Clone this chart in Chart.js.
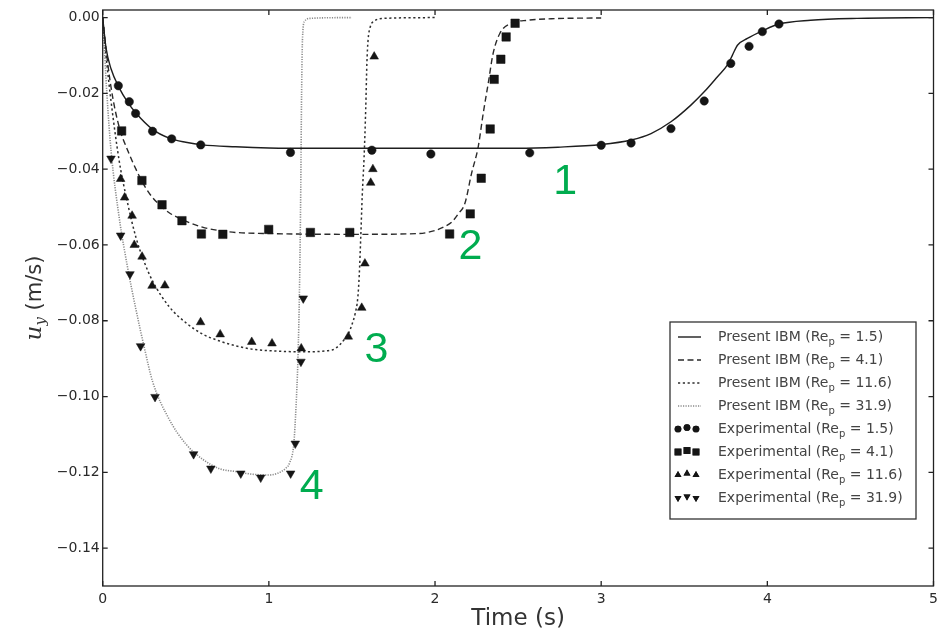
<!DOCTYPE html>
<html>
<head>
<meta charset="utf-8">
<script src="https://cdn.jsdelivr.net/npm/chart.js@4/dist/chart.umd.min.js"></script>
<style>
  html, body { margin: 0; padding: 0; background: #fff; }
</style>
</head>
<body>
<canvas id="velChart" width="940" height="633"></canvas>
<script>
// axis ticks
const xTicks = [0, 1, 2, 3, 4, 5];
const yTicks = [0, -0.02, -0.04, -0.06, -0.08, -0.10, -0.12, -0.14];

// Present IBM, Re_p = 1.5
const t1 = [0, 0.02, 0.05, 0.1, 0.15, 0.2, 0.3, 0.4, 0.5, 0.6, 0.8, 1.0, 1.3, 2.0, 2.5, 2.74, 3.0, 3.18, 3.3, 3.42, 3.54, 3.62, 3.7, 3.76, 3.79, 3.82, 3.88, 3.97, 4.07, 4.26, 4.54, 5.0];
const u1 = [0, -0.008, -0.0135, -0.0186, -0.0223, -0.0252, -0.0295, -0.0318, -0.0329, -0.0336, -0.0341, -0.0344, -0.0345, -0.0345, -0.0345, -0.0342, -0.0335, -0.0323, -0.0306, -0.0275, -0.0231, -0.0196, -0.0156, -0.0125, -0.0099, -0.0073, -0.0055, -0.0035, -0.0017, -0.0007, -0.0002, 0];
// Present IBM, Re_p = 4.1
const t2 = [0, 0.03, 0.06, 0.1, 0.15, 0.2, 0.25, 0.3, 0.35, 0.4, 0.5, 0.6, 0.7, 0.8, 1.0, 1.5, 1.9, 2.0, 2.06, 2.1, 2.14, 2.18, 2.22, 2.26, 2.29, 2.32, 2.35, 2.39, 2.46, 2.56, 2.7, 3.0];
const u2 = [0, -0.012, -0.021, -0.029, -0.035, -0.040, -0.0443, -0.0475, -0.0497, -0.0515, -0.0537, -0.0553, -0.0562, -0.0567, -0.057, -0.0572, -0.057, -0.0562, -0.0551, -0.054, -0.0518, -0.049, -0.0411, -0.0341, -0.0253, -0.0174, -0.0094, -0.0042, -0.0015, -0.0007, -0.0003, -0.0001];
// Present IBM, Re_p = 11.6
const t3 = [0, 0.02, 0.05, 0.1, 0.15, 0.2, 0.25, 0.3, 0.4, 0.5, 0.6, 0.7, 0.8, 0.9, 1.0, 1.2, 1.38, 1.43, 1.46, 1.48, 1.5, 1.52, 1.535, 1.544, 1.553, 1.562, 1.573, 1.583, 1.59, 1.597, 1.61, 1.63, 1.7, 2.0];
const u3 = [0, -0.01, -0.022, -0.038, -0.049, -0.058, -0.0645, -0.0695, -0.0763, -0.0805, -0.0835, -0.0853, -0.0866, -0.0875, -0.0879, -0.0882, -0.0877, -0.0862, -0.0846, -0.0833, -0.081, -0.078, -0.074, -0.068, -0.058, -0.047, -0.037, -0.024, -0.012, -0.006, -0.0025, -0.001, -0.0002, 0];
// Present IBM, Re_p = 31.9
const t4 = [0, 0.025, 0.05, 0.1, 0.15, 0.2, 0.25, 0.3, 0.4, 0.5, 0.6, 0.7, 0.8, 0.9, 1.0, 1.05, 1.1, 1.125, 1.15, 1.163, 1.175, 1.185, 1.192, 1.197, 1.203, 1.215, 1.25, 1.5];
const u4 = [0, -0.02, -0.035, -0.053, -0.066, -0.077, -0.087, -0.096, -0.106, -0.1125, -0.1165, -0.119, -0.1198, -0.1205, -0.1207, -0.1203, -0.119, -0.1175, -0.1125, -0.103, -0.09, -0.07, -0.045, -0.02, -0.005, -0.001, -0.0002, 0];

// experiments
const e1t = [0.094, 0.16, 0.198, 0.30, 0.415, 0.59, 1.13, 1.62, 1.975, 2.57, 3.0, 3.18, 3.42, 3.62, 3.78, 3.89, 3.97, 4.07];
const e1u = [-0.018, -0.0222, -0.0253, -0.030, -0.032, -0.0336, -0.0356, -0.035, -0.036, -0.0357, -0.0337, -0.0331, -0.0293, -0.022, -0.0121, -0.0076, -0.0037, -0.0017];
const e2t = [0.114, 0.236, 0.357, 0.477, 0.594, 0.723, 0.999, 1.25, 1.487, 2.088, 2.212, 2.278, 2.332, 2.356, 2.396, 2.428, 2.482];
const e2u = [-0.0299, -0.043, -0.0494, -0.0536, -0.0571, -0.0572, -0.0559, -0.0567, -0.0567, -0.0571, -0.0518, -0.0424, -0.0294, -0.0163, -0.011, -0.0051, -0.0015];
const e3t = [0.108, 0.132, 0.177, 0.19, 0.237, 0.297, 0.374, 0.589, 0.707, 0.897, 1.019, 1.195, 1.478, 1.559, 1.578, 1.613, 1.626, 1.634];
const e3u = [-0.0426, -0.0475, -0.0523, -0.060, -0.0631, -0.0708, -0.0707, -0.0804, -0.0836, -0.0856, -0.086, -0.0873, -0.0842, -0.0766, -0.0649, -0.0436, -0.040, -0.0103];
const e4t = [0.05, 0.108, 0.164, 0.228, 0.315, 0.547, 0.651, 0.831, 0.951, 1.131, 1.159, 1.193, 1.207];
const e4u = [-0.0372, -0.0575, -0.0677, -0.0867, -0.1001, -0.1152, -0.119, -0.1203, -0.1214, -0.1203, -0.1124, -0.0908, -0.0741];

const reynolds = ['1.5', '4.1', '11.6', '31.9'];

// green case numbers next to each curve
const caseNums = ['1', '2', '3', '4'];
const caseT = [2.784, 2.214, 1.648, 1.258];
const caseU = [-0.0430, -0.0600, -0.0871, -0.1234];

const pts = (ts, us) => ts.map((t, i) => ({ x: t, y: us[i] }));

const lineStyles = [
  { color: '#1e1e1e', dash: [], width: 1.4 },
  { color: '#2a2a2a', dash: [6, 3.5], width: 1.4 },
  { color: '#2e2e2e', dash: [2.2, 2.6], width: 1.5 },
  { color: '#8a8a8a', dash: [1.2, 1.3], width: 1.6 }
];
const markers = [
  { style: 'circle', radius: 4.2, rot: 0 },
  { style: 'rect', radius: 6.0, rot: 0 },
  { style: 'triangle', radius: 5.0, rot: 0 },
  { style: 'triangle', radius: 5.0, rot: 180 }
];

const lineData = [pts(t1, u1), pts(t2, u2), pts(t3, u3), pts(t4, u4)];
const expData = [pts(e1t, e1u), pts(e2t, e2u), pts(e3t, e3u), pts(e4t, e4u)];

const datasets = [];
expData.forEach((d, i) => {
  datasets.push({
    label: 'Experimental (Re_p = ' + reynolds[i] + ')',
    data: d,
    showLine: false,
    pointStyle: markers[i].style,
    pointRadius: markers[i].radius,
    pointRotation: markers[i].rot,
    backgroundColor: '#151515',
    borderColor: '#151515',
    borderWidth: 0.5,
    order: 0
  });
});
lineData.forEach((d, i) => {
  datasets.push({
    label: 'Present IBM (Re_p = ' + reynolds[i] + ')',
    data: d,
    showLine: true,
    pointRadius: 0,
    borderColor: lineStyles[i].color,
    borderDash: lineStyles[i].dash,
    borderWidth: lineStyles[i].width,
    cubicInterpolationMode: 'monotone',
    fill: false,
    order: 1
  });
});

// box around the plot + inward ticks on all four sides
const frameTicks = {
  id: 'frameTicks',
  afterDatasetsDraw(chart) {
    const { ctx, chartArea: a, scales: { x, y } } = chart;
    ctx.save();
    ctx.strokeStyle = '#222';
    ctx.lineWidth = 1.3;
    ctx.strokeRect(a.left, a.top, a.right - a.left, a.bottom - a.top);
    ctx.beginPath();
    xTicks.forEach(v => {
      const px = x.getPixelForValue(v);
      ctx.moveTo(px, a.bottom); ctx.lineTo(px, a.bottom - 5);
      ctx.moveTo(px, a.top); ctx.lineTo(px, a.top + 5);
    });
    yTicks.forEach(v => {
      const py = y.getPixelForValue(v);
      ctx.moveTo(a.left, py); ctx.lineTo(a.left + 5, py);
      ctx.moveTo(a.right, py); ctx.lineTo(a.right - 5, py);
    });
    ctx.stroke();
    ctx.restore();
  }
};

const caseLabels = {
  id: 'caseLabels',
  afterDatasetsDraw(chart) {
    const { ctx, scales: { x, y } } = chart;
    ctx.save();
    ctx.fillStyle = '#00ac4f';
    ctx.font = '43px "Liberation Sans", Arial, sans-serif';
    ctx.textAlign = 'center';
    ctx.textBaseline = 'middle';
    caseNums.forEach((n, i) => {
      ctx.fillText(n, x.getPixelForValue(caseT[i]), y.getPixelForValue(caseU[i]) + 2);
    });
    ctx.restore();
  }
};

// rotated y title: italic u with subscript y, then (m/s)
const yTitle = {
  id: 'yTitle',
  afterDraw(chart) {
    const ctx = chart.ctx;
    const mainFont = 'italic 23px "DejaVu Serif", serif';
    const subFont = 'italic 15px "DejaVu Serif", serif';
    const unitFont = '21px "DejaVu Sans", sans-serif';
    ctx.save();
    ctx.font = mainFont; const wU = ctx.measureText('u').width;
    ctx.font = subFont; const wY = ctx.measureText('y').width;
    ctx.font = unitFont; const wM = ctx.measureText(' (m/s)').width;
    const total = wU + wY + wM;
    ctx.translate(34, 298);
    ctx.rotate(-Math.PI / 2);
    ctx.fillStyle = '#333';
    ctx.textBaseline = 'alphabetic';
    let cx = -total / 2;
    ctx.font = mainFont; ctx.fillText('u', cx, 7); cx += wU;
    ctx.font = subFont; ctx.fillText('y', cx, 11); cx += wY;
    ctx.font = unitFont; ctx.fillText(' (m/s)', cx, 7);
    ctx.restore();
  }
};

// legend box inside the plot, matplotlib style
const legendBox = {
  id: 'legendBox',
  afterDraw(chart) {
    const ctx = chart.ctx;
    const left = 670, top = 322, right = 916, bottom = 519;
    const rowH = 23, firstRow = 337;
    ctx.save();
    ctx.fillStyle = '#fff';
    ctx.fillRect(left, top, right - left, bottom - top);
    ctx.strokeStyle = '#333';
    ctx.lineWidth = 1.3;
    ctx.strokeRect(left, top, right - left, bottom - top);

    const mainFont = '14px "DejaVu Sans", sans-serif';
    const subFont = '10px "DejaVu Sans", sans-serif';
    const drawLabel = (prefix, re, yy) => {
      let cx = 718;
      ctx.fillStyle = '#444';
      ctx.textBaseline = 'middle';
      ctx.font = mainFont;
      ctx.fillText(prefix + ' (Re', cx, yy);
      cx += ctx.measureText(prefix + ' (Re').width;
      ctx.font = subFont;
      ctx.fillText('p', cx, yy + 5);
      cx += ctx.measureText('p').width;
      ctx.font = mainFont;
      ctx.fillText(' = ' + re + ')', cx, yy);
    };

    for (let i = 0; i < 4; i++) {
      const yy = firstRow + i * rowH;
      const st = lineStyles[i];
      ctx.save();
      ctx.strokeStyle = st.color;
      ctx.lineWidth = st.width;
      ctx.setLineDash(st.dash);
      ctx.beginPath();
      ctx.moveTo(678, yy); ctx.lineTo(701, yy);
      ctx.stroke();
      ctx.restore();
      drawLabel('Present IBM', reynolds[i], yy);
    }
    for (let i = 0; i < 4; i++) {
      const yy = firstRow + (i + 4) * rowH;
      const m = markers[i];
      ctx.fillStyle = '#151515';
      [678, 687, 696].forEach((mx, k) => {
        Chart.helpers.drawPoint(ctx, {
          pointStyle: m.style,
          radius: m.radius * 0.8,
          rotation: m.rot,
          borderWidth: 0
        }, mx, yy - (k === 1 ? 1.5 : 0));
        ctx.fill();
      });
      drawLabel('Experimental', reynolds[i], yy);
    }
    ctx.restore();
  }
};

new Chart(document.getElementById('velChart'), {
  type: 'scatter',
  data: { datasets: datasets },
  options: {
    responsive: false,
    animation: false,
    events: [],
    layout: { padding: { top: 10, right: 3.5, left: 0, bottom: 0 } },
    plugins: {
      legend: { display: false },
      tooltip: { enabled: false }
    },
    scales: {
      x: {
        type: 'linear',
        min: 0,
        max: 5,
        grid: { display: false, drawTicks: false },
        border: { display: false },
        afterBuildTicks: s => { s.ticks = xTicks.map(v => ({ value: v })); },
        afterFit: s => { s.height = 47; s.paddingLeft = 0; s.paddingRight = 0; },
        ticks: {
          color: '#2a2a2a',
          font: { family: '"DejaVu Sans", sans-serif', size: 14 },
          padding: 5,
          maxRotation: 0,
          callback: v => String(v)
        },
        title: {
          display: true,
          text: 'Time (s)',
          color: '#333',
          font: { family: '"DejaVu Sans", sans-serif', size: 23 },
          padding: { top: 0, bottom: 0 }
        }
      },
      y: {
        type: 'linear',
        min: -0.15,
        max: 0.002,
        grid: { display: false, drawTicks: false },
        border: { display: false },
        afterBuildTicks: s => { s.ticks = yTicks.map(v => ({ value: v })); },
        afterFit: s => { s.width = 102.7; s.paddingTop = 0; s.paddingBottom = 0; },
        ticks: {
          color: '#2a2a2a',
          font: { family: '"DejaVu Sans", sans-serif', size: 14 },
          padding: 3,
          callback: v => (v === 0 ? '0.00' : '\u2212' + Math.abs(v).toFixed(2))
        }
      }
    }
  },
  plugins: [frameTicks, caseLabels, yTitle, legendBox]
});
</script>
</body>
</html>
